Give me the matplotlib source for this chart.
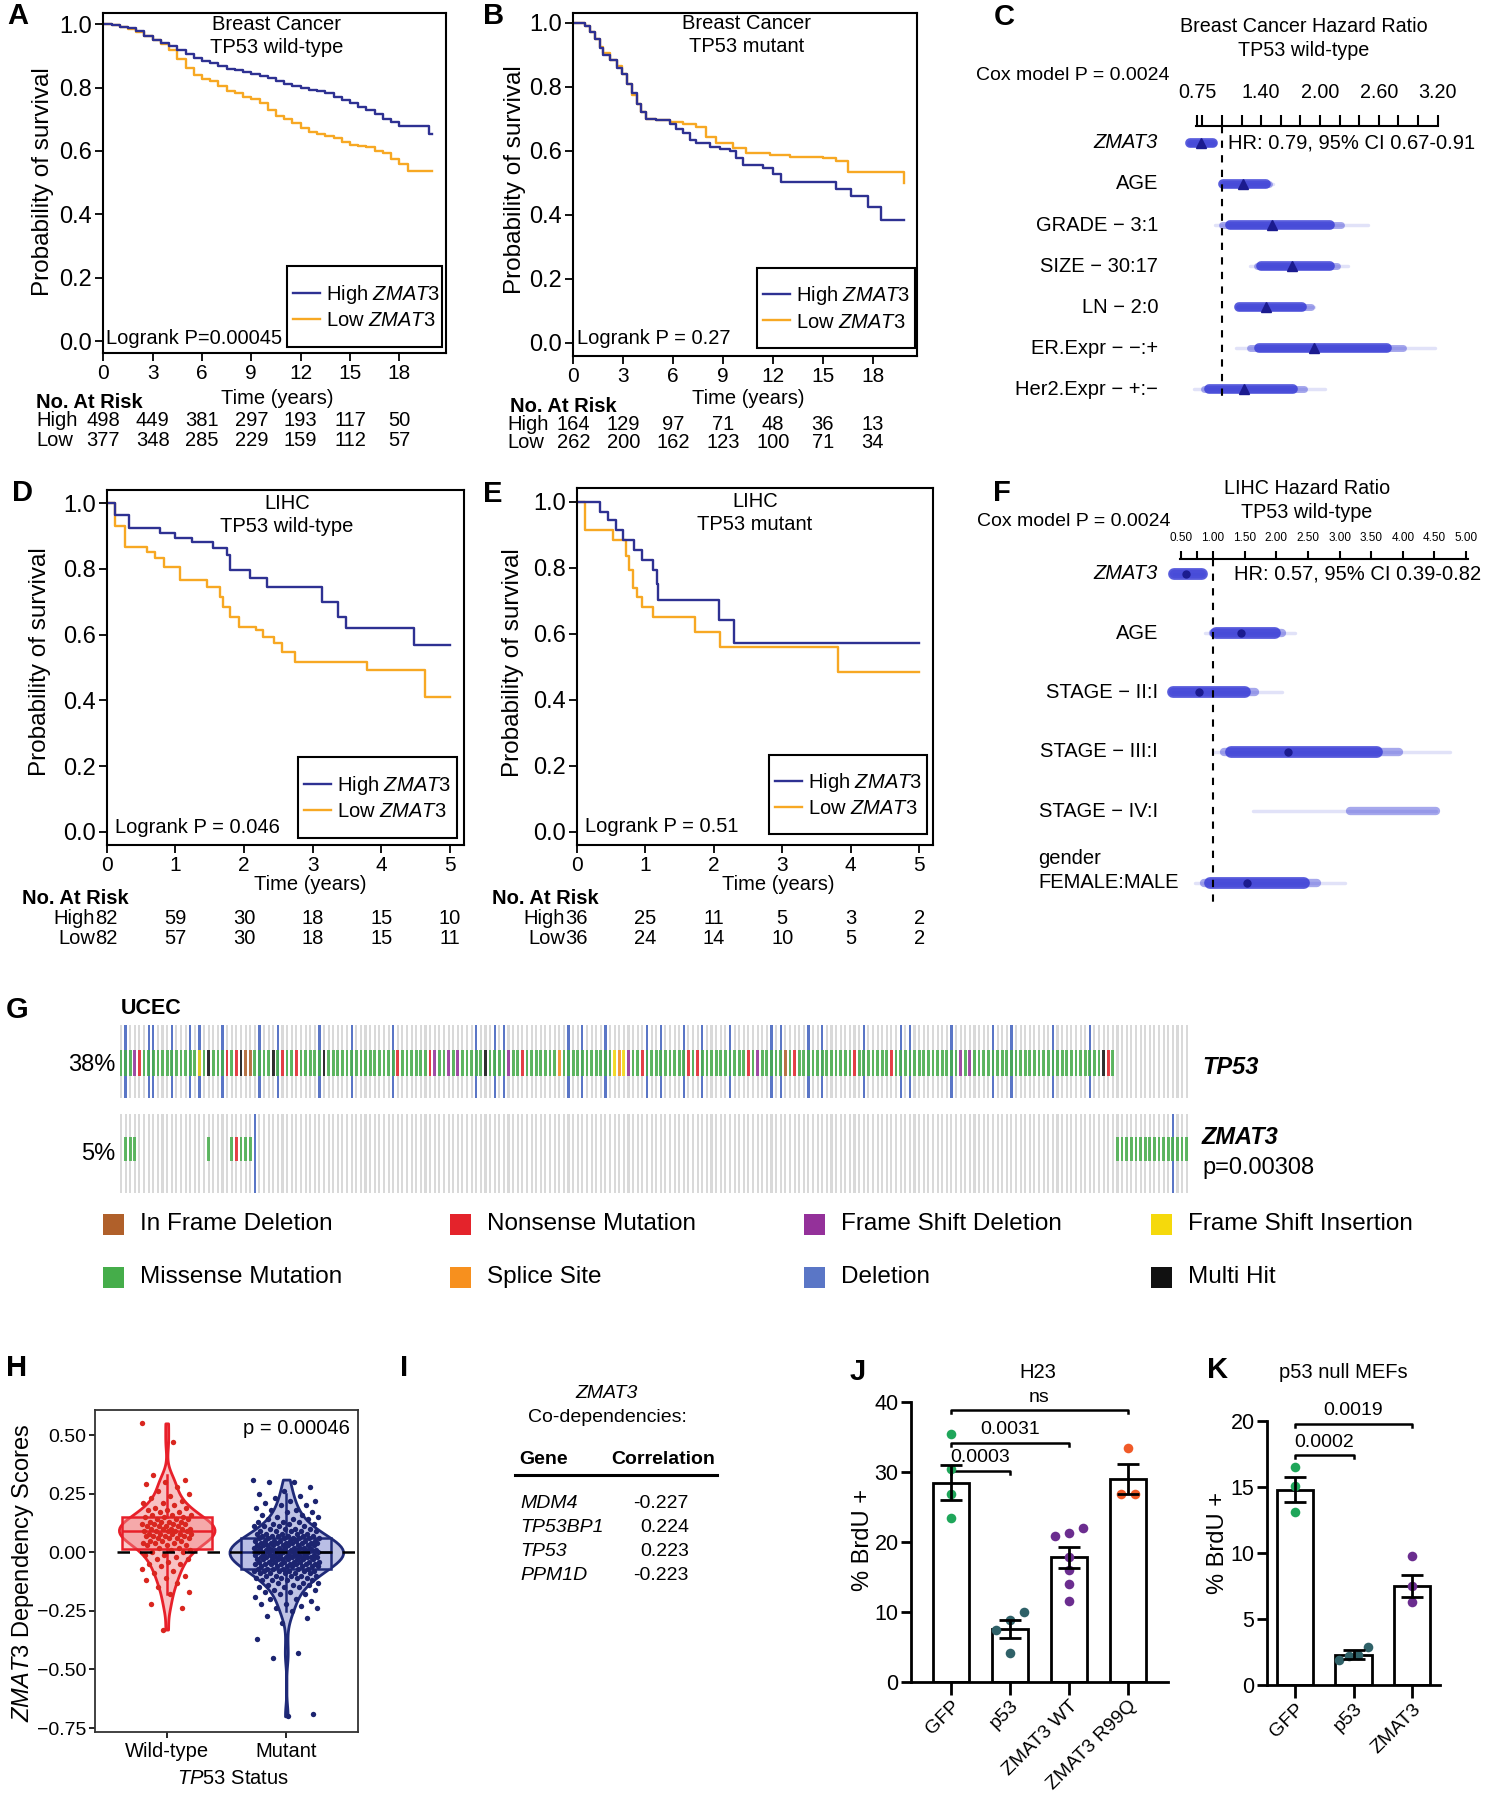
import numpy as np
import matplotlib
matplotlib.use('Agg')
import matplotlib.pyplot as plt
from matplotlib.lines import Line2D
from matplotlib.patches import Rectangle
from matplotlib.transforms import blended_transform_factory as blend

plt.rcParams['font.family'] = ['Liberation Sans', 'DejaVu Sans']
plt.rcParams['mathtext.fontset'] = 'custom'
plt.rcParams['mathtext.rm'] = 'Liberation Sans'
plt.rcParams['mathtext.it'] = 'Liberation Sans:italic'
plt.rcParams['mathtext.bf'] = 'Liberation Sans:bold'

W, H = 1489, 1800
HI_COL = '#2e3192'
LO_COL = '#f7a823'
FOREST = '#3b3fd6'

# ---------------- A: breast cancer, TP53 wild-type ----------------
a_t = [0, 0.5, 1.0, 1.5, 2.0, 2.5, 3.0, 3.5, 4.0, 4.5, 5.0, 5.5, 6.0, 6.5, 7.0, 7.5, 8.0, 8.5, 9.0, 9.5,
       10.0, 10.5, 11.0, 11.5, 12.0, 12.5, 13.0, 13.5, 14.0, 14.5, 15.0, 15.5, 16.0, 16.5, 17.0, 17.5,
       18.0, 18.5, 19.0, 19.5, 19.8, 20.0]
a_hi = [1.0, 0.998, 0.993, 0.988, 0.978, 0.962, 0.952, 0.942, 0.932, 0.92, 0.905, 0.895, 0.885, 0.877,
        0.868, 0.86, 0.856, 0.85, 0.843, 0.838, 0.832, 0.82, 0.812, 0.806, 0.80, 0.793, 0.79, 0.782,
        0.772, 0.76, 0.752, 0.74, 0.728, 0.718, 0.70, 0.69, 0.68, 0.68, 0.68, 0.68, 0.653, 0.653]
a_lo = [1.0, 0.998, 0.993, 0.985, 0.975, 0.962, 0.95, 0.938, 0.92, 0.89, 0.862, 0.84, 0.828, 0.82,
        0.806, 0.79, 0.782, 0.772, 0.765, 0.75, 0.73, 0.712, 0.70, 0.687, 0.672, 0.661, 0.655, 0.648,
        0.642, 0.628, 0.62, 0.617, 0.612, 0.6, 0.593, 0.575, 0.56, 0.538, 0.538, 0.538, 0.538, 0.538]
a_risk_t = [0, 3, 6, 9, 12, 15, 18]
a_risk_hi = [498, 449, 381, 297, 193, 117, 50]
a_risk_lo = [377, 348, 285, 229, 159, 112, 57]

# ---------------- B: breast cancer, TP53 mutant ----------------
b_hi_t = [0, 0.7, 1.0, 1.3, 1.6, 1.8, 2.2, 2.6, 2.9, 3.2, 3.5, 3.8, 4.1, 4.4, 5.0, 5.8, 6.2, 6.6, 7.0,
          7.4, 8.2, 8.8, 9.4, 9.8, 10.2, 11.4, 12.0, 12.5, 15.8, 16.7, 17.7, 18.5, 19.9]
b_hi = [1.0, 0.99, 0.97, 0.95, 0.92, 0.90, 0.885, 0.86, 0.84, 0.81, 0.78, 0.745, 0.72, 0.70, 0.695,
        0.685, 0.668, 0.654, 0.635, 0.623, 0.612, 0.606, 0.60, 0.576, 0.555, 0.545, 0.528, 0.503, 0.48,
        0.46, 0.425, 0.383, 0.383]
b_lo_t = [0, 0.7, 1.0, 1.3, 1.6, 1.8, 2.2, 2.6, 2.9, 3.2, 3.5, 3.8, 4.1, 4.4, 5.0, 5.8, 6.6, 7.4, 8.0,
          8.6, 9.6, 10.4, 11.8, 13.0, 15.0, 15.8, 16.5, 19.8, 19.9]
b_lo = [1.0, 0.99, 0.97, 0.95, 0.925, 0.905, 0.885, 0.865, 0.84, 0.81, 0.775, 0.745, 0.72, 0.70, 0.695,
        0.69, 0.685, 0.675, 0.644, 0.623, 0.608, 0.592, 0.586, 0.581, 0.576, 0.568, 0.534, 0.534, 0.50]
b_risk_hi = [164, 129, 97, 71, 48, 36, 13]
b_risk_lo = [262, 200, 162, 123, 100, 71, 34]

# ---------------- D: LIHC, TP53 wild-type ----------------
d_hi_t = [0, 0.12, 0.32, 0.78, 1.0, 1.24, 1.55, 1.75, 1.8, 2.08, 2.33, 3.13, 3.37, 3.48, 4.47, 5.0]
d_hi = [1.0, 0.964, 0.924, 0.909, 0.893, 0.883, 0.863, 0.843, 0.797, 0.772, 0.746, 0.70, 0.655, 0.62,
        0.57, 0.57]
d_lo_t = [0, 0.12, 0.27, 0.58, 0.7, 0.83, 1.07, 1.46, 1.65, 1.7, 1.8, 1.92, 2.18, 2.28, 2.43, 2.55,
          2.74, 3.79, 4.63, 5.0]
d_lo = [1.0, 0.93, 0.868, 0.853, 0.832, 0.807, 0.766, 0.746, 0.716, 0.685, 0.655, 0.624, 0.614, 0.594,
        0.574, 0.548, 0.518, 0.492, 0.411, 0.411]
d_risk_t = [0, 1, 2, 3, 4, 5]
d_risk_hi = [82, 59, 30, 18, 15, 10]
d_risk_lo = [82, 57, 30, 18, 15, 11]

# ---------------- E: LIHC, TP53 mutant ----------------
e_hi_t = [0, 0.34, 0.46, 0.58, 0.68, 0.83, 0.95, 1.12, 1.17, 1.19, 2.07, 2.29, 5.0]
e_hi = [1.0, 0.97, 0.944, 0.914, 0.884, 0.854, 0.823, 0.793, 0.75, 0.702, 0.641, 0.571, 0.571]
e_lo_t = [0, 0.12, 0.53, 0.72, 0.77, 0.82, 0.88, 0.95, 1.12, 1.73, 2.09, 3.82, 5.0]
e_lo = [1.0, 0.914, 0.884, 0.834, 0.793, 0.737, 0.712, 0.682, 0.652, 0.606, 0.561, 0.485, 0.485]
e_risk_hi = [36, 25, 11, 5, 3, 2]
e_risk_lo = [36, 24, 14, 10, 5, 2]

# ---------------- C: breast cancer hazard ratios ----------------
c_labels = ['ZMAT3', 'AGE', 'GRADE \u2212 3:1', 'SIZE \u2212 30:17', 'LN \u2212 2:0',
            'ER.Expr \u2212 \u2212:+', 'Her2.Expr \u2212 +:\u2212']
c_est = [0.79, 1.21, 1.51, 1.71, 1.45, 1.94, 1.22]
c_thin_lo = [0.67, 1.01, 0.925, 1.29, 1.14, 1.14, 0.71]
c_thin_hi = [0.91, 1.52, 2.49, 2.29, 1.94, 3.17, 2.05]
c_mid_lo = [0.67, 1.01, 1.0, 1.36, 1.17, 1.29, 0.82]
c_mid_hi = [0.91, 1.48, 2.22, 2.17, 1.91, 2.85, 1.84]
c_thick_lo = [0.67, 1.01, 1.08, 1.40, 1.17, 1.38, 0.87]
c_thick_hi = [0.91, 1.45, 2.10, 2.10, 1.82, 2.68, 1.73]

# ---------------- F: LIHC hazard ratios ----------------
f_labels = ['ZMAT3', 'AGE', 'STAGE \u2212 II:I', 'STAGE \u2212 III:I', 'STAGE \u2212 IV:I', 'FEMALE:MALE']
f_est = [0.575, 1.45, 0.78, 2.18, np.nan, 1.53]
f_thin_lo = [0.39, 0.88, 0.37, 1.0, 1.63, 0.72]
f_thin_hi = [0.82, 2.30, 2.09, 4.75, 4.53, 3.08]
f_mid_lo = [0.39, 1.0, 0.37, 1.18, 3.16, 0.855]
f_mid_hi = [0.82, 2.09, 1.66, 3.94, 4.53, 2.65]
f_thick_lo = [0.39, 1.04, 0.37, 1.28, np.nan, 0.96]
f_thick_hi = [0.82, 1.98, 1.50, 3.59, np.nan, 2.44]

# ---------------- G: UCEC oncoprint ----------------
g_n = 232
tp53_mut_n = 216
tp53_other_idx = [3, 4, 17, 19, 23, 25, 26, 27, 28, 33, 35, 38, 44, 60, 67, 68, 71, 73, 79, 84, 87, 95,
                  107, 108, 109, 110, 113, 123, 125, 136, 138, 144, 146, 159, 167, 182, 184, 213, 214]
tp53_other_type = "FNIHNNHDDHNNHNNFFFHFNSISIFNNNNFDNNNFFHN"
tp53_del_idx = [1, 6, 7, 11, 15, 17, 22, 30, 34, 43, 50, 59, 77, 81, 83, 97, 100, 105, 114, 117, 122,
                126, 132, 141, 143, 149, 152, 161, 169, 171, 180, 189, 193, 202, 210]
zmat3_mut_idx = [1, 2, 3, 19, 24, 25, 26, 27, 28, 216, 217, 218, 219, 220, 221, 222, 223, 224, 225,
                 226, 227, 228, 229, 230, 231]
zmat3_mut_type = "MMMMMNMMMMMMMMMMMMMMMMMMM"
zmat3_del_idx = [29, 228]
mut_colors = {'D': '#b0602a', 'N': '#e4232b', 'F': '#94319a', 'I': '#f5d90c',
              'M': '#45ad4a', 'S': '#f7901e', 'X': '#5a76c6', 'H': '#111111'}
legend_items = [('D', 'In Frame Deletion'), ('N', 'Nonsense Mutation'), ('F', 'Frame Shift Deletion'),
                ('I', 'Frame Shift Insertion'), ('M', 'Missense Mutation'), ('S', 'Splice Site'),
                ('X', 'Deletion'), ('H', 'Multi Hit')]

# ---------------- H: dependency scores ----------------
wt_scores = [0.55, 0.47, 0.33, 0.31, 0.30, 0.29, 0.28, 0.26, 0.25, 0.24, 0.23, 0.22, 0.21, 0.21, 0.20,
             0.19, 0.19, 0.18, 0.18, 0.17, 0.17, 0.16, 0.16, 0.16, 0.15, 0.15, 0.15, 0.14, 0.14, 0.14,
             0.13, 0.13, 0.13, 0.13, 0.12, 0.12, 0.12, 0.12, 0.11, 0.11, 0.11, 0.11, 0.10, 0.10, 0.10,
             0.10, 0.10, 0.09, 0.09, 0.09, 0.09, 0.09, 0.08, 0.08, 0.08, 0.08, 0.08, 0.07, 0.07, 0.07,
             0.07, 0.06, 0.06, 0.06, 0.06, 0.05, 0.05, 0.05, 0.04, 0.04, 0.04, 0.03, 0.03, 0.03, 0.02,
             0.02, 0.01, 0.01, 0.0, 0.0, -0.01, -0.01, -0.02, -0.03, -0.03, -0.04, -0.05, -0.05, -0.06,
             -0.07, -0.08, -0.09, -0.10, -0.11, -0.12, -0.13, -0.15, -0.17, -0.18, -0.22, -0.24, -0.33]
mut_vals = [0.31, 0.30, 0.28, 0.26, 0.25, 0.24, 0.23, 0.22, 0.21, 0.20, 0.19, 0.18, 0.17, 0.16, 0.15,
            0.14, 0.13, 0.12, 0.11, 0.10, 0.09, 0.08, 0.07, 0.06, 0.05, 0.04, 0.03, 0.02, 0.01, 0.00,
            -0.01, -0.02, -0.03, -0.04, -0.05, -0.06, -0.07, -0.08, -0.09, -0.10, -0.11, -0.12, -0.13,
            -0.14, -0.15, -0.16, -0.17, -0.18, -0.19, -0.20, -0.21, -0.22, -0.23, -0.24, -0.25, -0.27,
            -0.28, -0.30, -0.37, -0.43, -0.45, -0.69, -0.70]
mut_counts = [1, 2, 1, 1, 1, 1, 1, 2, 1, 2, 1, 2, 2, 2, 2, 3, 3, 3, 4, 4, 5, 5, 6, 7, 8, 8, 9, 9, 10, 10,
              10, 9, 9, 8, 8, 7, 6, 6, 5, 5, 4, 4, 3, 3, 3, 2, 2, 2, 1, 2, 1, 2, 1, 2, 1, 1, 1, 1, 1, 1,
              1, 1, 1]

# ---------------- I: co-dependencies ----------------
codep_genes = ['MDM4', 'TP53BP1', 'TP53', 'PPM1D']
codep_corr = ['-0.227', '0.224', '0.223', '-0.223']

# ---------------- J / K: BrdU ----------------
j_names = ['GFP', 'p53', 'ZMAT3 WT', 'ZMAT3 R99Q']
j_mean = [28.5, 7.6, 17.8, 29.0]
j_sem = [2.5, 1.3, 1.5, 2.2]
j_points = [[35.4, 30.5, 26.9, 23.4], [8.8, 10.0, 7.5, 4.1],
            [22.0, 20.9, 21.3, 17.9, 16.0, 14.0, 11.6], [33.4, 26.9, 26.9]]
j_brackets = [(0, 1, 30.2, '0.0003'), (0, 2, 34.2, '0.0031'), (0, 3, 38.9, 'ns')]
k_names = ['GFP', 'p53', 'ZMAT3']
k_mean = [14.8, 2.3, 7.5]
k_sem = [0.95, 0.35, 0.8]
k_points = [[16.5, 15.1, 13.1], [2.9, 1.9, 2.3, 2.2], [9.8, 7.5, 6.3]]
k_brackets = [(0, 1, 17.4, '0.0002'), (0, 2, 19.8, '0.0019')]
dot_colors = ['#1fa65a', '#2f6168', '#6b2d8f', '#f05a28']

fig = plt.figure(figsize=(W / 100, H / 100), dpi=100)


def px_axes(l, t, r, b):
    return fig.add_axes([l / W, 1 - b / H, (r - l) / W, (b - t) / H])


def ftext(x, y, s, **kw):
    kw.setdefault('ha', 'left')
    kw.setdefault('va', 'center')
    return fig.text(x / W, 1 - y / H, s, **kw)


def km_panel(box, x_ref, y_ref, hi, lo, xticks, title, title_xy, ylab_xy, xlab_xy,
             pval, pval_xy, leg_box, risk_t, risk_hi, risk_lo, head_xy, lab_x, lab_ha, row_y):
    l, t, r, b = box
    ax = px_axes(l, t, r, b)
    px0, px1, xv = x_ref
    py1, py0 = y_ref
    sx = (px1 - px0) / xv
    sy = py0 - py1
    ax.set_xlim((l - px0) / sx, (r - px0) / sx)
    ax.set_ylim((py0 - b) / sy, (py0 - t) / sy)
    ax.step(lo[0], lo[1], where='post', color=LO_COL, lw=1.7)
    ax.step(hi[0], hi[1], where='post', color=HI_COL, lw=1.7)
    ax.set_xticks(xticks)
    yt = [0, 0.2, 0.4, 0.6, 0.8, 1.0]
    ax.set_yticks(yt)
    ax.set_yticklabels([f'{v:.1f}' for v in yt])
    ax.tick_params(axis='x', labelsize=15, length=6, width=1.3, pad=2)
    ax.tick_params(axis='y', labelsize=17, length=6, width=1.3, pad=2)
    for sp in ax.spines.values():
        sp.set_linewidth(1.5)
    # legend: drawn frame plus frameless legend inside it
    lx0, ly0, lx1, ly1 = leg_box
    ax.add_patch(Rectangle(((lx0 - l) / (r - l), (b - ly1) / (b - t)), (lx1 - lx0) / (r - l),
                           (ly1 - ly0) / (b - t), transform=ax.transAxes, fill=False,
                           edgecolor='black', lw=1.5, zorder=5))
    handles = [Line2D([], [], color=HI_COL, lw=1.7), Line2D([], [], color=LO_COL, lw=1.7)]
    ax.legend(handles, ['High $\\it{ZMAT3}$', 'Low $\\it{ZMAT3}$'], loc='center left',
              bbox_to_anchor=((lx0 + 6 - l) / (r - l), (b - (ly0 + ly1) / 2) / (b - t)),
              borderaxespad=0, borderpad=0, frameon=False, fontsize=14.5,
              handlelength=1.35, handletextpad=0.3, labelspacing=0.25)
    ftext(title_xy[0], title_xy[1], title, ha='center', va='top', fontsize=14.5, linespacing=1.25)
    ftext(ylab_xy[0], ylab_xy[1], 'Probability of survival', ha='center', rotation=90, fontsize=17.5)
    ftext(xlab_xy[0], xlab_xy[1], 'Time (years)', ha='center', fontsize=14.5)
    ftext(pval_xy[0], pval_xy[1], pval, fontsize=14.5)
    ftext(head_xy[0], head_xy[1], 'No. At Risk', fontsize=14.5, weight='bold')
    ftext(lab_x, row_y[0], 'High', ha=lab_ha, fontsize=14.5)
    ftext(lab_x, row_y[1], 'Low', ha=lab_ha, fontsize=14.5)
    tr = blend(ax.transData, fig.transFigure)
    for tt, nh, nl in zip(risk_t, risk_hi, risk_lo):
        ax.text(tt, 1 - row_y[0] / H, str(nh), transform=tr, ha='center', va='center', fontsize=14.5)
        ax.text(tt, 1 - row_y[1] / H, str(nl), transform=tr, ha='center', va='center', fontsize=14.5)
    return ax


km_panel((103.3, 12.7, 446, 353), (103.3, 399.3, 18), (24.3, 341), (a_t, a_hi), (a_t, a_lo),
         a_risk_t, 'Breast Cancer\nTP53 wild-type', (277, 15), (43, 182), (277, 398),
         'Logrank P=0.00045', (106, 338), (287, 266, 442, 347), a_risk_t, a_risk_hi, a_risk_lo,
         (36, 403), 36, 'left', (421, 440))
km_panel((573.3, 12.7, 916.7, 356), (573.3, 872.7, 18), (22.7, 342.7), (b_hi_t, b_hi), (b_lo_t, b_lo),
         a_risk_t, 'Breast Cancer\nTP53 mutant', (747, 14), (515, 180), (748, 399),
         'Logrank P = 0.27', (577, 338), (757, 268, 915, 348), a_risk_t, b_risk_hi, b_risk_lo,
         (510, 407), 507, 'left', (424, 442))
km_panel((106.7, 490, 464, 845), (106.7, 450, 5), (503.3, 831.7), (d_hi_t, d_hi), (d_lo_t, d_lo),
         d_risk_t, 'LIHC\nTP53 wild-type', (287, 494), (40, 662), (310, 885),
         'Logrank P = 0.046', (115, 828), (298, 757, 457, 838), d_risk_t, d_risk_hi, d_risk_lo,
         (22, 899), 95, 'right', (918, 938))
km_panel((576.7, 488.3, 933.3, 845), (576.7, 919.3, 5), (501.7, 831.7), (e_hi_t, e_hi), (e_lo_t, e_lo),
         d_risk_t, 'LIHC\nTP53 mutant', (755, 492), (513, 663), (778, 885),
         'Logrank P = 0.51', (585, 827), (769, 755, 927, 834), d_risk_t, e_risk_hi, e_risk_lo,
         (492, 899), 565, 'right', (918, 938))


def forest(box, xlim, ylim, rows, labels, lab_right, est, thin, mid, thick, marker, msize,
           majors, minors, tick_fs, tick_len, tick_pad, dash_end, widths):
    l, t, r, b = box
    ax = px_axes(l, t, r, b)
    ax.set_xlim(*xlim)
    ax.set_ylim(*ylim)
    for side in ['left', 'right', 'bottom']:
        ax.spines[side].set_visible(False)
    ax.spines['top'].set_linewidth(1.5)
    ax.xaxis.set_ticks_position('top')
    ax.set_xticks(majors)
    ax.set_xticklabels([f'{v:.2f}' for v in majors])
    ax.set_xticks(minors, minor=True)
    ax.tick_params(axis='x', which='both', direction='out', length=tick_len, width=1.5,
                   labelsize=tick_fs, pad=tick_pad)
    ax.set_yticks([])
    ax.plot([1, 1], [ylim[1], dash_end], color='black', lw=1.5, ls=(0, (3.5, 3.5)), zorder=5,
            clip_on=False)
    for y, e, lo3, hi3, lo2, hi2, lo1, hi1 in zip(rows, est, thin[0], thin[1], mid[0], mid[1],
                                                   thick[0], thick[1]):
        ax.plot([lo3, hi3], [y, y], color=FOREST, alpha=0.15, lw=widths[0], solid_capstyle='round',
                clip_on=False)
        ax.plot([lo2, hi2], [y, y], color=FOREST, alpha=0.45, lw=widths[1], solid_capstyle='round',
                clip_on=False)
        if not np.isnan(lo1):
            ax.plot([lo1, hi1], [y, y], color=FOREST, alpha=0.85, lw=widths[2], solid_capstyle='round',
                    clip_on=False)
        if not np.isnan(e):
            ax.plot([e], [y], marker=marker, color='#1b1b8f', ms=msize, clip_on=False, zorder=6)
    tr = blend(fig.transFigure, ax.transData)
    for y, lab in zip(rows, labels):
        ax.text(lab_right / W, y, lab, transform=tr, ha='right', va='center', fontsize=14.5,
                style='italic' if lab == 'ZMAT3' else 'normal')
    return ax, tr


# C
ftext(1304, 27, 'Breast Cancer Hazard Ratio', ha='center', fontsize=14.2)
ftext(1304, 50, 'TP53 wild-type', ha='center', fontsize=14.2)
ftext(976, 76, 'Cox model P = 0.0024', fontsize=14)
forest((1196, 126, 1438, 410), (0.735, 3.205), (6.5, -0.41), list(range(7)), c_labels, 1158, c_est,
       (c_thin_lo, c_thin_hi), (c_mid_lo, c_mid_hi), (c_thick_lo, c_thick_hi), '^', 7,
       [0.75, 1.4, 2.0, 2.6, 3.2], [0.8, 1.0, 1.2, 1.6, 1.8, 2.2, 2.4, 2.8, 3.0], 14.2, 8, 9,
       6.18, (2.5, 5, 7))
ftext(1228, 143, 'HR: 0.79, 95% CI 0.67-0.91', fontsize=14.5)

# F
ftext(1307, 488, 'LIHC Hazard Ratio', ha='center', fontsize=14.2)
ftext(1307, 513, 'TP53 wild-type', ha='center', fontsize=14.2)
ftext(977, 522, 'Cox model P = 0.0024', fontsize=14)
f_rows = [0, 1, 2, 3, 4, 5.21]
axf, trf = forest((1180, 559, 1468, 915), (0.478, 5.03), (5.75, -0.25), f_rows, f_labels[:5] + [''],
                  1158, f_est, (f_thin_lo, f_thin_hi), (f_mid_lo, f_mid_hi), (f_thick_lo, f_thick_hi),
                  'o', 5, [0.5, 1.0, 1.5, 2.0, 2.5, 3.0, 3.5, 4.0, 4.5, 5.0], [0.75], 8.5, 6, 5,
                  5.58, (2.5, 6, 8.5))
axf.text(1038 / W, f_rows[5], f_labels[5], transform=trf, ha='left', va='center', fontsize=14.5)
axf.text(1038 / W, f_rows[5] - 0.42, 'gender', transform=trf, ha='left', va='center', fontsize=14.5)
ftext(1234, 574, 'HR: 0.57, 95% CI 0.39-0.82', fontsize=14.5)

# G oncoprint
axg = px_axes(118.7, 1020, 1189, 1200)
axg.set_xlim(-0.5, g_n - 0.5)
axg.set_ylim(180, 0)
axg.axis('off')
cols = np.arange(g_n)
tp53_types = ['M'] * tp53_mut_n
for i, c in zip(tp53_other_idx, tp53_other_type):
    tp53_types[i] = c
axg.bar(cols, 73, bottom=5, width=0.45, color='#d9d9d9', linewidth=0)
axg.bar(cols, 79, bottom=94, width=0.45, color='#d9d9d9', linewidth=0)
axg.bar(tp53_del_idx, 73, bottom=5, width=0.5, color=mut_colors['X'], linewidth=0)
axg.bar(zmat3_del_idx, 79, bottom=94, width=0.5, color=mut_colors['X'], linewidth=0)
axg.bar(np.arange(tp53_mut_n), 25.5, bottom=30, width=0.6, linewidth=0, alpha=0.85,
        color=[mut_colors[c] for c in tp53_types])
axg.bar(zmat3_mut_idx, 24, bottom=117, width=0.6, linewidth=0, alpha=0.85,
        color=[mut_colors[c] for c in zmat3_mut_type])
ftext(121, 1008, 'UCEC', fontsize=15.5, weight='bold')
ftext(115, 1065, '38%', ha='right', fontsize=17)
ftext(115, 1154, '5%', ha='right', fontsize=17)
ftext(1202, 1068, 'TP53', fontsize=17, weight='bold', style='italic')
ftext(1202, 1137, 'ZMAT3', fontsize=17, weight='bold', style='italic')
ftext(1202, 1168, 'p=0.00308', fontsize=17)
leg_x = [103, 450, 804, 1151]
leg_y = [1224, 1277]
for k, (code, name) in enumerate(legend_items):
    x = leg_x[k % 4]
    y = leg_y[k // 4]
    fig.add_artist(Rectangle((x / W, 1 - (y + 10.5) / H), 21 / W, 21 / H, transform=fig.transFigure,
                             color=mut_colors[code], linewidth=0))
    ftext(x + 37, y, name, fontsize=17.5)

# H violin / box / jitter
axh = px_axes(95, 1410, 358, 1732)
mut_scores = np.repeat(mut_vals, mut_counts)
groups = [np.array(wt_scores), mut_scores]
edge_cols = ['#e8202a', '#1f2a78']
face_cols = [(0.91, 0.13, 0.16, 0.28), (0.45, 0.48, 0.78, 0.45)]
box_faces = [(0.95, 0.55, 0.55, 0.45), (0.72, 0.74, 0.9, 0.8)]
pt_cols = ['#d9261f', '#1c2470']
vp = axh.violinplot(groups, positions=[0, 1], widths=[0.8, 0.95], showextrema=False,
                    bw_method=0.3)
for body, ec, fc in zip(vp['bodies'], edge_cols, face_cols):
    body.set_facecolor(fc)
    body.set_edgecolor(ec)
    body.set_linewidth(2)
    body.set_alpha(None)
    body.set_zorder(1)
for i, g in enumerate(groups):
    axh.boxplot([g], positions=[i], widths=0.75, showfliers=False, patch_artist=True,
                boxprops=dict(facecolor=box_faces[i], edgecolor=edge_cols[i], linewidth=1.8),
                medianprops=dict(color=edge_cols[i], linewidth=1.8),
                whiskerprops=dict(color=edge_cols[i], linewidth=1.8),
                capprops=dict(linewidth=0), zorder=2)
    n = len(g)
    spread = [0.42, 0.55][i]
    jit = ((np.arange(n) * 0.618034) % 1 - 0.5) * spread
    axh.scatter(i + jit, g, s=15, color=pt_cols[i], zorder=3, linewidths=0)
axh.plot([-0.42, 1.6], [0, 0], color='black', lw=1.8, ls=(0, (5, 4)), zorder=4)
axh.set_xlim(-0.6, 1.6)
axh.set_ylim(-0.767, 0.607)
yt = [0.5, 0.25, 0.0, -0.25, -0.5, -0.75]
axh.set_yticks(yt)
axh.set_yticklabels([f'{v:.2f}'.replace('-', '\u2212') for v in yt])
axh.set_xticks([0, 1])
axh.set_xticklabels(['Wild-type', 'Mutant'])
axh.tick_params(axis='y', labelsize=14, length=4, width=1.2, pad=2)
axh.tick_params(axis='x', labelsize=14.5, length=4, width=1.2, pad=3)
for sp in axh.spines.values():
    sp.set_linewidth(1.3)
    sp.set_color('#333333')
ftext(350, 1428, 'p = 0.00046', ha='right', fontsize=14.5)
ftext(23, 1573, '$\\it{ZMAT3}$ Dependency Scores', ha='center', rotation=90, fontsize=17)
ftext(233, 1778, '$\\it{TP53}$ Status', ha='center', fontsize=14.5)

# I table
ftext(607, 1393, 'ZMAT3', ha='center', style='italic', fontsize=14)
ftext(607, 1418, 'Co-dependencies:', ha='center', fontsize=14)
ftext(519, 1459, 'Gene', weight='bold', fontsize=14)
ftext(663, 1459, 'Correlation', ha='center', weight='bold', fontsize=14)
fig.add_artist(Line2D([515 / W, 717 / W], [1 - 1475 / H] * 2, color='black', lw=2.2))
for k, (g, c) in enumerate(zip(codep_genes, codep_corr)):
    ftext(520, 1503 + 24 * k, g, style='italic', fontsize=14)
    ftext(689, 1503 + 24 * k, c, ha='right', fontsize=14)


def swarm_offsets(vals, thr, dx):
    vals = np.asarray(vals, float)
    order = np.argsort(vals)
    offs = np.zeros(len(vals))
    cluster = [order[0]]
    for a, b in zip(order[:-1], order[1:]):
        if vals[b] - vals[a] < thr:
            cluster.append(b)
        else:
            for j, idx in enumerate(cluster):
                offs[idx] = (j - (len(cluster) - 1) / 2) * dx
            cluster = [b]
    for j, idx in enumerate(cluster):
        offs[idx] = (j - (len(cluster) - 1) / 2) * dx
    return offs


def bar_panel(box, xlim, ylim, yticks, names, means, sems, points, brackets, thr, dx,
              title, title_xy, ylab_xy):
    l, t, r, b = box
    ax = px_axes(l, t, r, b)
    x = np.arange(len(names))
    ax.bar(x, means, width=0.62, color='white', edgecolor='black', linewidth=2, zorder=1)
    for i, pts in enumerate(points):
        ax.scatter(i + swarm_offsets(pts, thr, dx), pts, s=48, color=dot_colors[i], zorder=3,
                   linewidths=0, clip_on=False)
    ax.errorbar(x, means, yerr=sems, fmt='none', ecolor='black', elinewidth=2, capsize=8,
                capthick=2, zorder=4)
    for i0, i1, y, lab in brackets:
        d = (ylim[1] - ylim[0]) * 0.012
        ax.plot([i0, i0, i1, i1], [y - d, y, y, y - d], color='black', lw=1.8, clip_on=False)
        ax.annotate(lab, ((i0 + i1) / 2, y), xytext=(0, 3), textcoords='offset points',
                    ha='center', va='bottom', fontsize=14, annotation_clip=False)
    ax.set_xlim(*xlim)
    ax.set_ylim(*ylim)
    ax.set_yticks(yticks)
    ax.set_xticks(x)
    ax.set_xticklabels(names, rotation=45, ha='right', va='top', rotation_mode='anchor')
    ax.spines['top'].set_visible(False)
    ax.spines['right'].set_visible(False)
    ax.spines['left'].set_linewidth(2)
    ax.spines['bottom'].set_linewidth(2)
    ax.tick_params(axis='y', labelsize=15.5, length=7, width=2, pad=2)
    ax.tick_params(axis='x', labelsize=14, length=9, width=2, pad=2)
    ftext(title_xy[0], title_xy[1], title, ha='center', fontsize=14.5)
    ftext(ylab_xy[0], ylab_xy[1], '% BrdU +', ha='center', rotation=90, fontsize=17)
    return ax


bar_panel((911, 1402, 1168, 1682), (-0.68, 3.68), (0, 40), [0, 10, 20, 30, 40], j_names, j_mean, j_sem,
          j_points, j_brackets, 1.6, 0.24, 'H23', (1038, 1372), (863, 1540))
bar_panel((1267, 1421, 1440, 1685), (-0.48, 2.48), (0, 20), [0, 5, 10, 15, 20], k_names, k_mean, k_sem,
          k_points, k_brackets, 0.85, 0.17, 'p53 null MEFs', (1343, 1373), (1218, 1543))

# panel letters
for lab, x, y in [('A', 18, 16), ('B', 494, 16), ('C', 1004, 17), ('D', 22, 493), ('E', 493, 494),
                  ('F', 1002, 493), ('G', 17, 1010), ('H', 17, 1368), ('I', 404, 1368),
                  ('J', 858, 1372), ('K', 1218, 1370)]:
    ftext(x, y, lab, ha='center', fontsize=21, weight='bold')

fig.savefig('out.png', dpi=100)
